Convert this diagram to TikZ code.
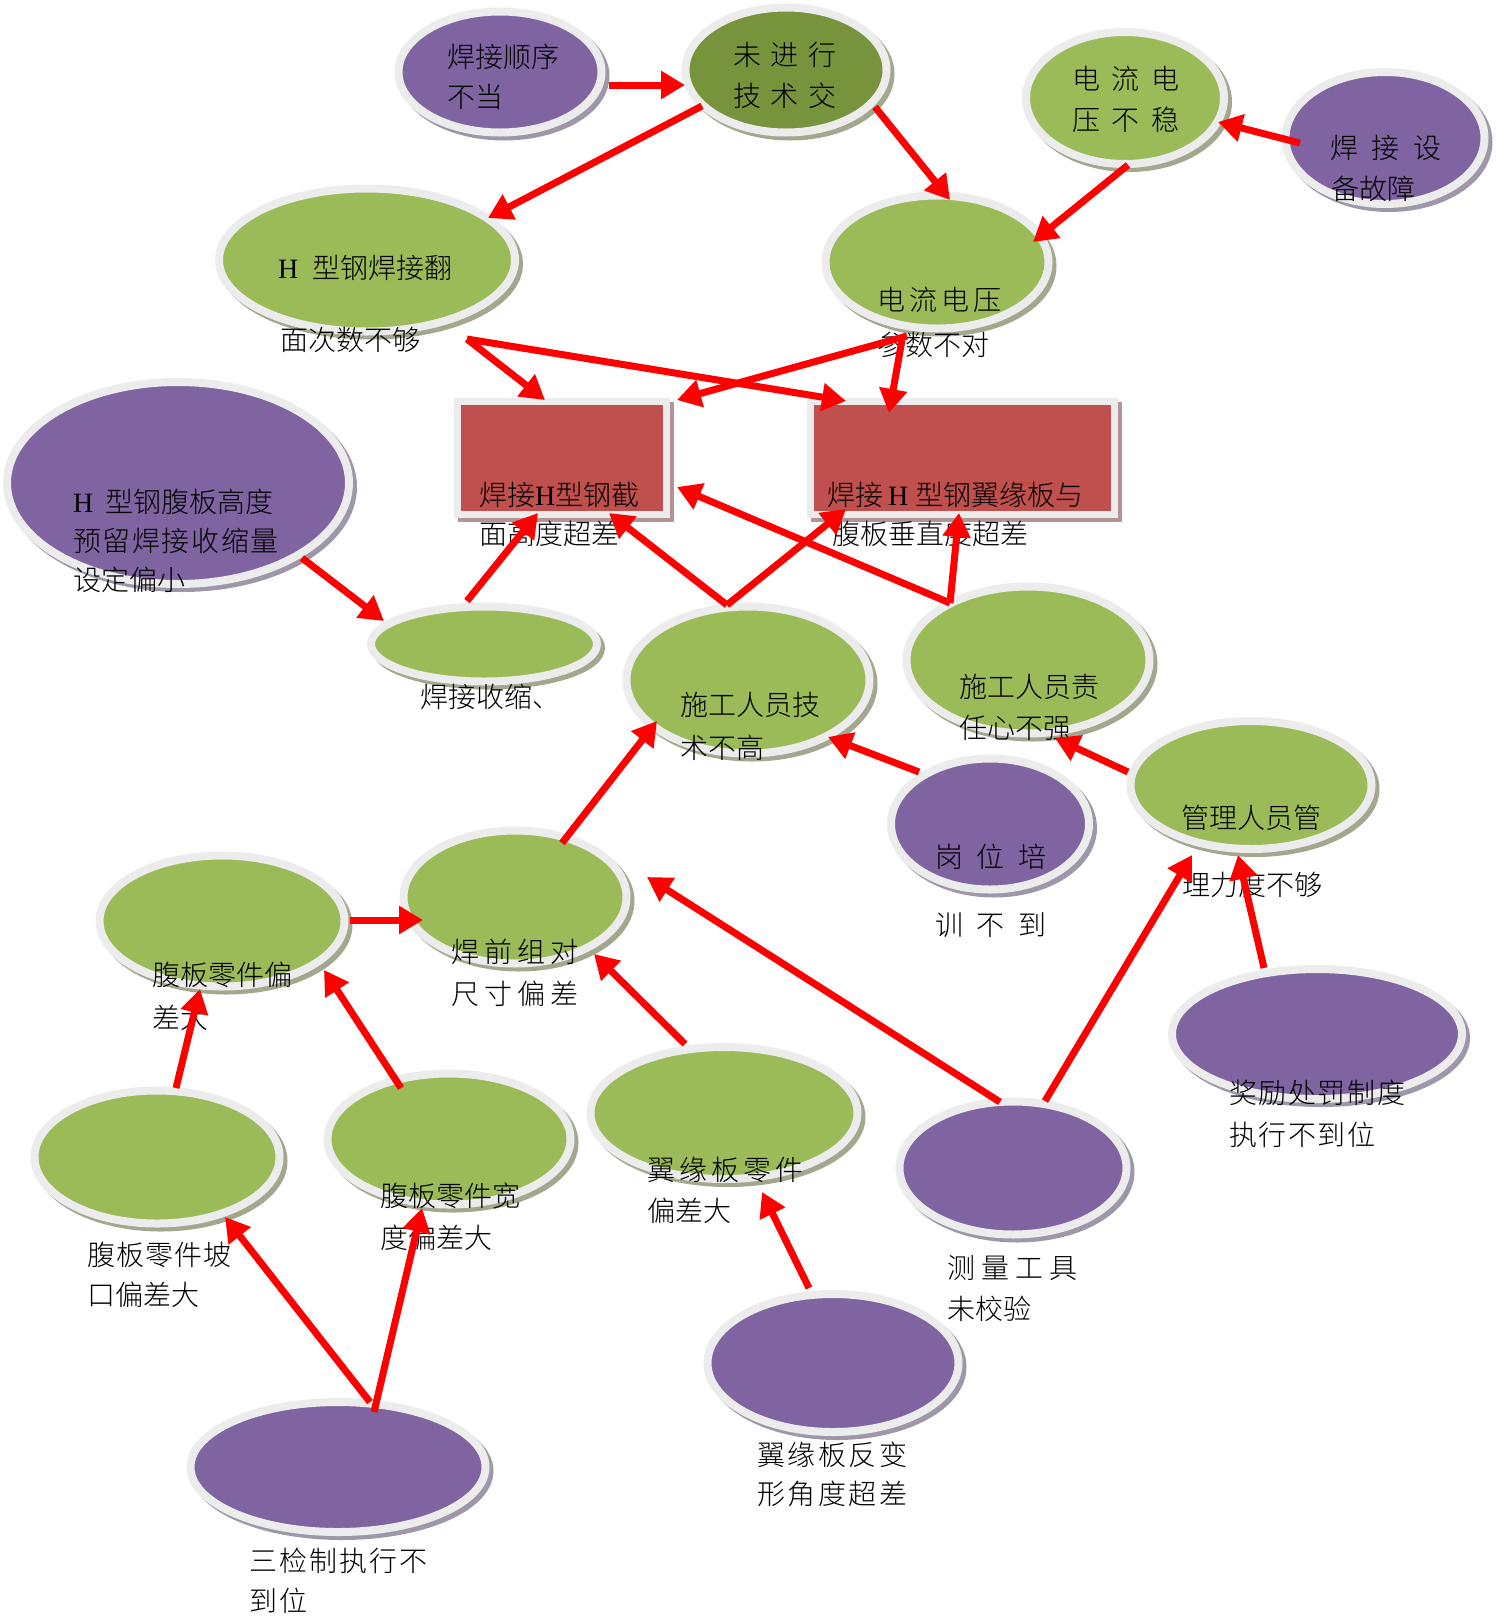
\documentclass[tikz,border=0pt]{standalone}
\usepackage{fontspec}
\setmainfont{Noto Sans CJK SC}[UprightFont={* Light}]
\newfontfamily\hfont{Liberation Serif}
\usetikzlibrary{arrows.meta,shapes.geometric,calc}
\definecolor{gfill}{HTML}{9BBB59}
\definecolor{dgfill}{HTML}{77933C}
\definecolor{pfill}{HTML}{8064A2}
\definecolor{rfill}{HTML}{C0504D}
\definecolor{ringc}{HTML}{ECECEC}
\definecolor{shg}{HTML}{A3A78E}
\definecolor{shp}{HTML}{9E97AA}
\definecolor{shr}{HTML}{B39494}
\newcommand\ks[1]{\kern#1pt\relax}
\tikzset{
  bub/.style={ellipse, draw=ringc, line width=8pt, inner sep=0pt,
    preaction={draw=#1, fill=#1, line width=8pt, transform canvas={shift={(4pt,-4pt)}}}},
  gbub/.style={bub=shg, fill=gfill},
  dbub/.style={bub=shg, fill=dgfill},
  pbub/.style={bub=shp, fill=pfill},
  rbox/.style={rectangle, draw=ringc, line width=7pt, fill=rfill, inner sep=0pt,
    minimum height=113pt,
    preaction={draw=shr, fill=shr, line width=7pt, transform canvas={shift={(4pt,-4pt)}}}},
  lbl/.style={anchor=base west, inner sep=0pt, font=\fontsize{28}{30}\selectfont},
  arr/.style={draw=red, line width=7pt, -{Triangle[length=24pt,width=27pt]}},
}
\begin{document}
\begin{tikzpicture}[x=1pt,y=-1pt]
\useasboundingbox (0,0) rectangle (1508,1618);
% ellipses
\node[pbub, minimum width=203pt, minimum height=121pt] (p1) at (500,72) {};
\node[dbub, minimum width=201pt, minimum height=125pt] (g0) at (786,70) {};
\node[gbub, minimum width=198pt, minimum height=132pt] (g1) at (1125,98) {};
\node[pbub, minimum width=199pt, minimum height=132pt] (p2) at (1385,138) {};
\node[gbub, minimum width=296pt, minimum height=143pt] (g2) at (367,260) {};
\node[gbub, minimum width=223pt, minimum height=133pt] (g3) at (937,262) {};
\node[pbub, minimum width=342pt, minimum height=202pt] (p3) at (178,483) {};
\node[gbub, minimum width=226pt, minimum height=75pt] (g4) at (484,644) {};
\node[gbub, minimum width=243pt, minimum height=147pt] (g5) at (748,680) {};
\node[gbub, minimum width=243pt, minimum height=147pt] (g6) at (1028,660) {};
\node[gbub, minimum width=241pt, minimum height=128pt] (g7) at (1251,785) {};
\node[pbub, minimum width=198pt, minimum height=131pt] (p4) at (990,824) {};
\node[gbub, minimum width=245pt, minimum height=131pt] (g8) at (222,921) {};
\node[gbub, minimum width=223pt, minimum height=133pt] (g9) at (515,897) {};
\node[gbub, minimum width=245pt, minimum height=133pt] (g10) at (157,1157) {};
\node[gbub, minimum width=243pt, minimum height=131pt] (g11) at (449,1139) {};
\node[gbub, minimum width=267pt, minimum height=132pt] (g12) at (724,1113) {};
\node[pbub, minimum width=227pt, minimum height=133pt] (p5) at (1013,1168) {};
\node[pbub, minimum width=290pt, minimum height=130pt] (p6) at (1317,1034) {};
\node[pbub, minimum width=251pt, minimum height=138pt] (p7) at (833,1363) {};
\node[pbub, minimum width=295pt, minimum height=130pt] (p8) at (338,1467) {};
% boxes
\node[rbox, minimum width=209pt] (b1) at (562,458) {};
\node[rbox, minimum width=304pt] (b2) at (962,458) {};
% labels
\node[lbl] (t1a) at (447,67) {焊接顺序};
\node[lbl] (t1b) at (447,107) {不当};
\node[lbl] (t2a) at (733,65) {未\ks{9.5}进\ks{9.5}行};
\node[lbl] (t2b) at (733,106) {技\ks{9.5}术\ks{9.5}交};
\node[lbl] (t3a) at (1072,89) {电\ks{11.5}流\ks{11.5}电};
\node[lbl] (t3b) at (1072,130) {压\ks{11.5}不\ks{11.5}稳};
\node[lbl] (t4a) at (1330,158) {焊\ks{13.5}接\ks{13.5}设};
\node[lbl] (t4b) at (1331,199) {备故障};
\node[lbl] (t5a) at (278,278) {{\hfont H}\ks{14}型钢焊接翻};
\node[lbl] (t5b) at (280,350) {面次数不够};
\node[lbl] (t6a) at (877,310) {电\ks{4}流\ks{4}电\ks{4}压};
\node[lbl] (t6b) at (877,355) {参数不对};
\node[lbl] (t7a) at (479,505) {焊接{\hfont H}型钢截};
\node[lbl] (t7b) at (479,544) {面高度超差};
\node[lbl] (t8a) at (827,505) {焊接\ks{5}{\hfont H}\ks{7}型钢翼缘板与};
\node[lbl] (t8b) at (832,544) {腹板垂直度超差};
\node[lbl] (t9a) at (73,512) {{\hfont H}\ks{12}型钢腹板高度};
\node[lbl] (t9b) at (73,551) {预\ks{1.6}留\ks{1.6}焊\ks{1.6}接\ks{1.6}收\ks{1.6}缩\ks{1.6}量};
\node[lbl] (t9c) at (73,590) {设定偏小};
\node[lbl] (t10) at (420,707) {焊接收缩、};
\node[lbl] (t11a) at (680,715) {施工人员技};
\node[lbl] (t11b) at (680,758) {术不高};
\node[lbl] (t12a) at (959,697) {施工人员责};
\node[lbl] (t12b) at (959,738) {任心不强};
\node[lbl] (t13a) at (1181,828) {管理人员管};
\node[lbl] (t13b) at (1182,895) {理力度不够};
\node[lbl] (t14a) at (935,867) {岗\ks{13.5}位\ks{13.5}培};
\node[lbl] (t14b) at (935,935) {训\ks{13.5}不\ks{13.5}到};
\node[lbl] (t15a) at (152,985) {腹板零件偏};
\node[lbl] (t15b) at (152,1028) {差大};
\node[lbl] (t16a) at (451,962) {焊\ks{5}前\ks{5}组\ks{5}对};
\node[lbl] (t16b) at (451,1004) {尺\ks{5}寸\ks{5}偏\ks{5}差};
\node[lbl] (t17a) at (87,1265) {腹\ks{1}板\ks{1}零\ks{1}件\ks{1}坡};
\node[lbl] (t17b) at (87,1305) {口偏差大};
\node[lbl] (t18a) at (380,1206) {腹板零件宽};
\node[lbl] (t18b) at (380,1248) {度偏差大};
\node[lbl] (t19a) at (647,1180) {翼\ks{4}缘\ks{4}板\ks{4}零\ks{4}件};
\node[lbl] (t19b) at (647,1221) {偏差大};
\node[lbl] (t20a) at (947,1278) {测\ks{6}量\ks{6}工\ks{6}具};
\node[lbl] (t20b) at (947,1319) {未校验};
\node[lbl] (t21a) at (1229,1103) {奖\ks{1.6}励\ks{1.6}处\ks{1.6}罚\ks{1.6}制\ks{1.6}度};
\node[lbl] (t21b) at (1229,1145) {执\ks{1.6}行\ks{1.6}不\ks{1.6}到\ks{1.6}位};
\node[lbl] (t22a) at (757,1465) {翼\ks{2.5}缘\ks{2.5}板\ks{2.5}反\ks{2.5}变};
\node[lbl] (t22b) at (757,1504) {形\ks{2.5}角\ks{2.5}度\ks{2.5}超\ks{2.5}差};
\node[lbl] (t23a) at (249,1571) {三\ks{2}检\ks{2}制\ks{2}执\ks{2}行\ks{2}不};
\node[lbl] (t23b) at (249,1611) {到\ks{2}位};
% arrows
\draw[arr] ($(p1)+(109,13)$) -- ($(g0)+(-101,15)$);
\draw[arr] ($(g0)+(-84,36)$) -- ($(g2)+(121,-42)$);
\draw[arr] ($(g0)+(89,37)$) -- ($(g3)+(13,-62)$);
\draw[arr] ($(p2)+(-85,5)$) -- ($(g1)+(93,24)$);
\draw[arr] ($(g1)+(3,67)$) -- ($(g3)+(96,-20)$);
\draw[arr] ($(g2)+(100,79)$) -- ($(b1)+(-17,-58)$);
\draw[arr] ($(g2)+(100,79)$) -- ($(b2)+(-116,-57)$);
\draw[arr] ($(g3)+(-30,74)$) -- ($(b1)+(115,-58)$);
\draw[arr] ($(g3)+(-35,78)$) -- ($(b2)+(-73,-45)$);
\draw[arr] ($(p3)+(124,75)$) -- ($(g4)+(-100,-23)$);
\draw[arr] ($(g4)+(-17,-43)$) -- ($(b1)+(-24,55)$);
\draw[arr] ($(g5)+(-21,-75)$) -- ($(b1)+(47,55)$);
\draw[arr] ($(g5)+(-21,-75)$) -- ($(b2)+(-116,51)$);
\draw[arr] ($(g6)+(-78,-57)$) -- ($(b1)+(115,29)$);
\draw[arr] ($(g6)+(-78,-57)$) -- ($(b2)+(-3,55)$);
\draw[arr] ($(p4)+(-71,-52)$) -- ($(g5)+(80,57)$);
\draw[arr] ($(g7)+(-123,-13)$) -- ($(g6)+(27,78)$);
\draw[arr] ($(g9)+(47,-54)$) -- ($(g5)+(-91,41)$);
\draw[arr] ($(g8)+(128,-1)$) -- ($(g9)+(-92,23)$);
\draw[arr] ($(g10)+(19,-69)$) -- ($(g8)+(-22,68)$);
\draw[arr] ($(g11)+(-48,-51)$) -- ($(g8)+(102,49)$);
\draw[arr] ($(g12)+(-39,-69)$) -- ($(g9)+(79,57)$);
\draw[arr] ($(p5)+(-13,-66)$) -- ($(g9)+(132,-20)$);
\draw[arr] ($(p5)+(32,-67)$) -- ($(g7)+(-59,70)$);
\draw[arr] ($(p6)+(-53,-66)$) -- ($(g7)+(-13,70)$);
\draw[arr] ($(p7)+(-24,-75)$) -- ($(g12)+(38,79)$);
\draw[arr] ($(p8)+(32,-65)$) -- ($(g10)+(68,60)$);
\draw[arr] ($(p8)+(36,-55)$) -- ($(g11)+(-27,69)$);
\end{tikzpicture}
\end{document}
